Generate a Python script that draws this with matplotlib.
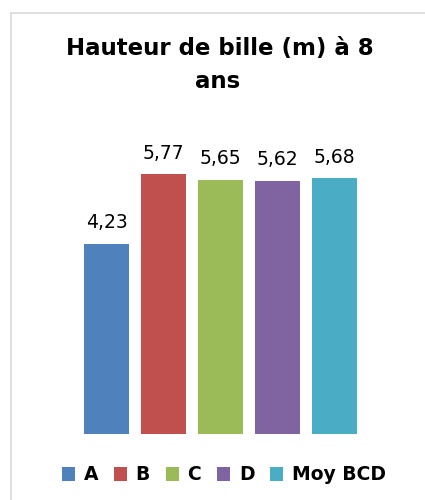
import matplotlib.pyplot as plt
from matplotlib.lines import Line2D
from matplotlib.patches import Patch

categories = ["A", "B", "C", "D", "Moy BCD"]
hauteurs = [4.23, 5.77, 5.65, 5.62, 5.68]
couleurs = ["#4F81BD", "#C0504D", "#9BBB59", "#8064A2", "#4BACC6"]

plt.rcParams['font.family'] = ['DejaVu Sans']

fig = plt.figure(figsize=(4.25, 5), dpi=100)
ax = fig.add_axes([0.1835, 0.132, 0.6706, 0.63])

x = range(len(categories))
bars = ax.bar(x, hauteurs, width=0.79, color=couleurs)
for b, v in zip(bars, hauteurs):
    ax.annotate(f"{v:.2f}".replace(".", ","), (b.get_x() + b.get_width() / 2, v),
                xytext=(0, 8.5), textcoords="offset points", ha="center", va="bottom",
                fontsize=13.5, color="#000000")

ax.set_xlim(-0.5, len(categories) - 0.5)
ax.set_ylim(0, 7)
ax.axis("off")

fig.text(0.518, 0.904, "Hauteur de bille (m) à 8", ha="center", va="center",
         fontsize=16.5, fontweight="bold")
fig.text(0.513, 0.838, "ans", ha="center", va="center",
         fontsize=16.5, fontweight="bold")

handles = [Patch(facecolor=c, edgecolor="none") for c in couleurs]
fig.legend(handles, categories, loc="center", bbox_to_anchor=(0.527, 0.05), ncol=5,
           frameon=False, handlelength=0.7, handleheight=0.7, handletextpad=0.45,
           columnspacing=0.85, prop={"weight": "bold", "size": 13.5})

# bordure du graphique
fig.add_artist(Line2D([11 / 425, 11 / 425], [0, 1 - 13 / 500], color="#D9D9D9", lw=1.2))
fig.add_artist(Line2D([11 / 425, 1], [1 - 13 / 500, 1 - 13 / 500], color="#D9D9D9", lw=1.2))

fig.savefig("out.png", dpi=100)
